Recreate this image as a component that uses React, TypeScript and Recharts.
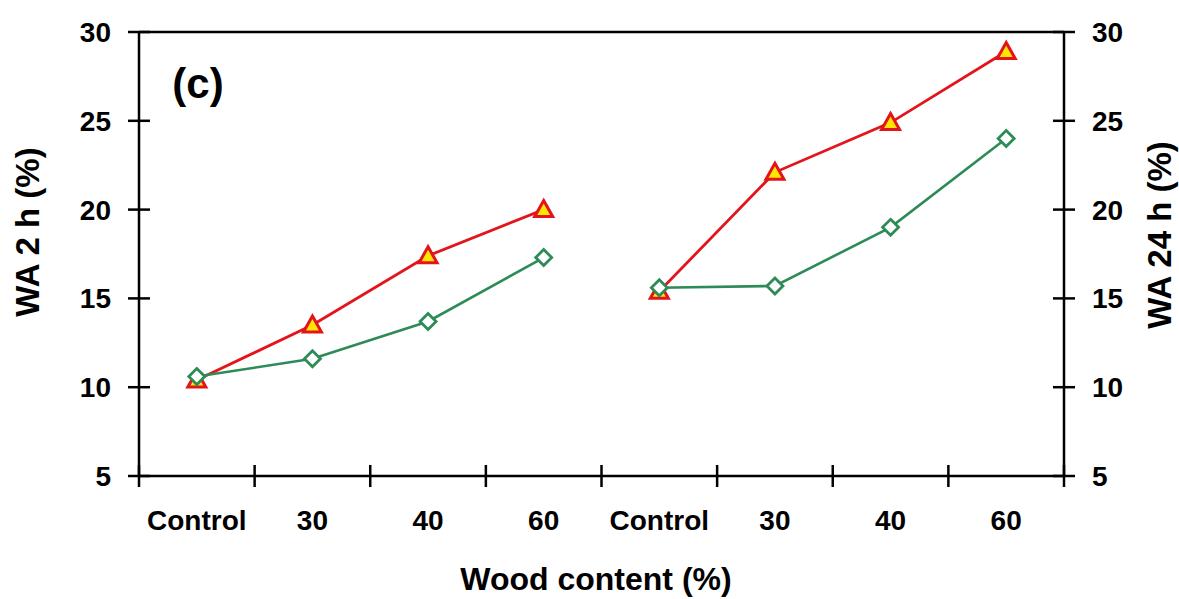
import React from 'react';
import { LineChart, Line, XAxis, YAxis, ReferenceLine } from 'recharts';

// category labels along the bottom (two groups: WA 2 h on the left, WA 24 h on the right)
const CATEGORIES = ['Control', '30', '40', '60', 'Control', '30', '40', '60'];
const Y_TICKS = [5, 10, 15, 20, 25, 30];

// WA 2 h (%) - left group
const wa2Red = [10.4, 13.5, 17.4, 20.0];
const wa2Green = [10.6, 11.6, 13.7, 17.3];
// WA 24 h (%) - right group
const wa24Red = [15.4, 22.1, 24.9, 28.9];
const wa24Green = [15.6, 15.7, 19.0, 24.0];

const rows = CATEGORIES.map((label, i) => ({
  x: i + 0.5,
  label,
  red2: i < 4 ? wa2Red[i] : null,
  green2: i < 4 ? wa2Green[i] : null,
  red24: i >= 4 ? wa24Red[i - 4] : null,
  green24: i >= 4 ? wa24Green[i - 4] : null,
}));

const X_TICKS = Array.from({ length: 17 }, (_, i) => i / 2);

const FONT = '"Liberation Sans", Arial, sans-serif';
const RED = '#e3141b';
const GREEN = '#2e8b57';
const AXIS_W = 2.5;
const M = 28; // tick margin
const T = 11; // half tick length

const XTick = (p: any) => {
  const v = p.payload.value;
  const axisY = p.y - 34;
  if (Number.isInteger(v)) {
    return <line x1={p.x} x2={p.x} y1={axisY - T} y2={axisY + T} stroke="#000" strokeWidth={AXIS_W} />;
  }
  return (
    <text x={p.x} y={p.y} dy="0.71em" textAnchor="middle" fontFamily={FONT} fontWeight="bold" fontSize={28} fill="#000">
      {CATEGORIES[Math.floor(v)]}
    </text>
  );
};

const LeftTick = (p: any) => {
  const ax = p.x + M;
  return (
    <g>
      <line x1={ax - T} x2={ax + T} y1={p.y} y2={p.y} stroke="#000" strokeWidth={AXIS_W} />
      <text x={p.x} y={p.y} dy="0.36em" textAnchor="end" fontFamily={FONT} fontWeight="bold" fontSize={28} fill="#000">
        {p.payload.value}
      </text>
    </g>
  );
};

const RightTick = (p: any) => {
  const ax = p.x - M;
  return (
    <g>
      <line x1={ax - T} x2={ax + T} y1={p.y} y2={p.y} stroke="#000" strokeWidth={AXIS_W} />
      <text x={p.x} y={p.y} dy="0.36em" textAnchor="start" fontFamily={FONT} fontWeight="bold" fontSize={28} fill="#000">
        {p.payload.value}
      </text>
    </g>
  );
};

const triangleDot = (p: any) => {
  const key = `t-${p.dataKey}-${p.index}`;
  if (p.value == null || p.cy == null) return <g key={key} />;
  const { cx, cy } = p;
  const pts = `${cx},${cy - 9} ${cx + 9},${cy + 7} ${cx - 9},${cy + 7}`;
  return <polygon key={key} points={pts} fill="#ffe600" stroke={RED} strokeWidth={3} strokeLinejoin="miter" />;
};

const diamondDot = (p: any) => {
  const key = `d-${p.dataKey}-${p.index}`;
  if (p.value == null || p.cy == null) return <g key={key} />;
  const { cx, cy } = p;
  const pts = `${cx},${cy - 8} ${cx + 8},${cy} ${cx},${cy + 8} ${cx - 8},${cy}`;
  return <polygon key={key} points={pts} fill="#fff" stroke={GREEN} strokeWidth={2.8} />;
};

const titleStyle = { fontFamily: FONT, fontWeight: 'bold' as const, fill: '#000' };

export default function App() {
  return (
    <div style={{ position: 'absolute', left: 0, top: 0, width: 1179, height: 599, background: '#fff' }}>
      <LineChart width={1179} height={599} data={rows} margin={{ top: 32, right: 0, bottom: 0, left: 0 }}>
        <XAxis
          dataKey="x"
          type="number"
          domain={[0, 8]}
          ticks={X_TICKS}
          interval={0}
          height={123}
          tickSize={0}
          tickMargin={34}
          tickLine={false}
          axisLine={{ stroke: '#000', strokeWidth: AXIS_W }}
          tick={XTick}
        />
        <YAxis
          yAxisId="left"
          domain={[5, 30]}
          ticks={Y_TICKS}
          interval={0}
          width={139}
          tickSize={0}
          tickMargin={M}
          tickLine={false}
          axisLine={{ stroke: '#000', strokeWidth: AXIS_W }}
          tick={LeftTick}
        />
        <YAxis
          yAxisId="right"
          orientation="right"
          domain={[5, 30]}
          ticks={Y_TICKS}
          interval={0}
          width={115}
          tickSize={0}
          tickMargin={M}
          tickLine={false}
          axisLine={{ stroke: '#000', strokeWidth: AXIS_W }}
          tick={RightTick}
        />
        <ReferenceLine yAxisId="left" y={30} stroke="#000" strokeWidth={AXIS_W} />
        <Line yAxisId="left" dataKey="red2" stroke={RED} strokeWidth={2.8} dot={triangleDot} activeDot={false} isAnimationActive={false} />
        <Line yAxisId="right" dataKey="red24" stroke={RED} strokeWidth={2.8} dot={triangleDot} activeDot={false} isAnimationActive={false} />
        <Line yAxisId="left" dataKey="green2" stroke={GREEN} strokeWidth={2.6} dot={diamondDot} activeDot={false} isAnimationActive={false} />
        <Line yAxisId="right" dataKey="green24" stroke={GREEN} strokeWidth={2.6} dot={diamondDot} activeDot={false} isAnimationActive={false} />
        <text x={198} y={98} textAnchor="middle" fontSize={42} {...titleStyle}>(c)</text>
        <text x={596} y={590} textAnchor="middle" fontSize={32} {...titleStyle}>Wood content (%)</text>
        <text x={39} y={232} textAnchor="middle" fontSize={33} transform="rotate(-90 39 232)" {...titleStyle}>WA 2 h (%)</text>
        <text x={1171} y={235} textAnchor="middle" fontSize={33} transform="rotate(-90 1171 235)" {...titleStyle}>WA 24 h (%)</text>
      </LineChart>
    </div>
  );
}
